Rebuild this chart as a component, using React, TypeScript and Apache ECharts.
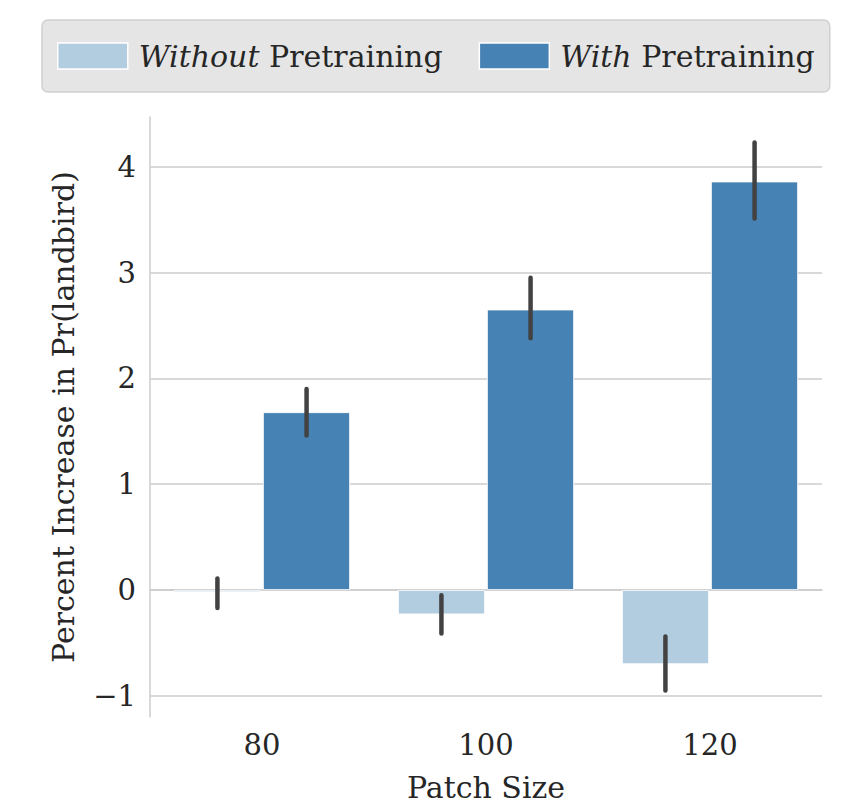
import React, { useEffect, useRef } from "react";
import * as echarts from "echarts";

const categories = ["80", "100", "120"];
const withoutMean = [-0.02, -0.23, -0.7];
const withoutLow = [-0.17, -0.41, -0.95];
const withoutHigh = [0.11, -0.05, -0.44];
const withMean = [1.68, 2.65, 3.86];
const withLow = [1.46, 2.38, 3.51];
const withHigh = [1.9, 2.95, 4.23];
const yTicks = [-1, 0, 1, 2, 3, 4];
const seriesNames = ["Without Pretraining", "With Pretraining"];

const FONT = "'DejaVu Serif', 'Liberation Serif', serif";
const FS = 30;
const FS_TICK = 29;
const TEXT = "#262626";
const LIGHT = "#b3cde0";
const DARK = "#4682b4";

export default function App() {
  const ref = useRef<HTMLDivElement>(null);
  useEffect(() => {
    if (!ref.current) return;
    const chart = echarts.init(ref.current, null, { renderer: "svg" });
    const errSeries = (low: number[], high: number[], side: number) => ({
      type: "custom",
      silent: true,
      z: 5,
      data: categories.map((_, i) => [i, low[i], high[i]]),
      renderItem: (params: any, api: any) => {
        const i = api.value(0);
        const band = api.size([1, 0])[0];
        const off = side * (band * 0.199);
        const p1 = api.coord([i, api.value(1)]);
        const p2 = api.coord([i, api.value(2)]);
        return {
          type: "line",
          shape: { x1: p1[0] + off, y1: p1[1], x2: p2[0] + off, y2: p2[1] },
          style: { stroke: "#424242", lineWidth: 4.5, lineCap: "round" },
        };
      },
    });
    chart.setOption({
      animation: false,
      textStyle: { fontFamily: FONT, color: TEXT },
      grid: { left: 150, right: 41, top: 117, bottom: 87, containLabel: false, outerBoundsMode: "none" },
      legend: {
        data: seriesNames,
        left: 42,
        top: 20,
        width: 788,
        padding: [21, 15, 21, 15],
        itemWidth: 70,
        itemHeight: 26,
        itemGap: 36,
        icon: "rect",
        backgroundColor: "#e5e5e5",
        borderColor: "#d0d0d0",
        borderWidth: 1.5,
        borderRadius: 6,
        itemStyle: { borderColor: "#ffffff", borderWidth: 1.5 },
        formatter: (name: string) => {
          const parts = name.split(" ");
          return "{i|" + parts[0] + "} " + parts.slice(1).join(" ");
        },
        textStyle: {
          fontFamily: FONT,
          fontSize: FS,
          color: TEXT,
          padding: [0, 0, 0, 6],
          rich: {
            i: { fontFamily: FONT, fontSize: FS, fontStyle: "italic", color: TEXT },
          },
        },
      },
      xAxis: {
        type: "category",
        data: categories,
        name: "Patch Size",
        nameLocation: "middle",
        nameGap: 55,
        nameTextStyle: { fontFamily: FONT, fontSize: FS, color: TEXT },
        axisLine: { show: true, lineStyle: { color: "#cccccc", width: 1.5 } },
        axisTick: { show: false },
        axisLabel: { fontFamily: FONT, fontSize: FS_TICK, color: TEXT, margin: 13 },
        splitLine: { show: false },
      },
      yAxis: {
        type: "value",
        min: -1.2,
        max: 4.47,
        axisLine: { show: true, lineStyle: { color: "#cccccc", width: 1.5 } },
        axisTick: { show: false, customValues: yTicks },
        axisLabel: {
          customValues: yTicks,
          fontFamily: FONT,
          fontSize: FS_TICK,
          color: TEXT,
          margin: 14,
          formatter: (v: number) => (v < 0 ? "\u2212" + Math.abs(v) : String(v)),
        },
        splitLine: { show: true, lineStyle: { color: "#cccccc", width: 1.5 } },
      },
      graphic: [
        {
          type: "text",
          x: 63,
          y: 417,
          rotation: Math.PI / 2,
          style: {
            text: "Percent Increase in Pr(landbird)",
            font: FS + "px " + FONT,
            fill: TEXT,
            align: "center",
            verticalAlign: "middle",
          },
        },
      ],
      series: [
        {
          name: seriesNames[0],
          type: "bar",
          data: withoutMean,
          barWidth: 87,
          barGap: "2.3%",
          itemStyle: { color: LIGHT, borderColor: "#ffffff", borderWidth: 0.8 },
        },
        {
          name: seriesNames[1],
          type: "bar",
          data: withMean,
          barWidth: 87,
          barGap: "2.3%",
          itemStyle: { color: DARK, borderColor: "#ffffff", borderWidth: 0.8 },
        },
        errSeries(withoutLow, withoutHigh, -1),
        errSeries(withLow, withHigh, 1),
      ],
    });
    return () => chart.dispose();
  }, []);
  return <div ref={ref} style={{ width: 863, height: 804, marginLeft: -8, marginTop: -8 }} />;
}
